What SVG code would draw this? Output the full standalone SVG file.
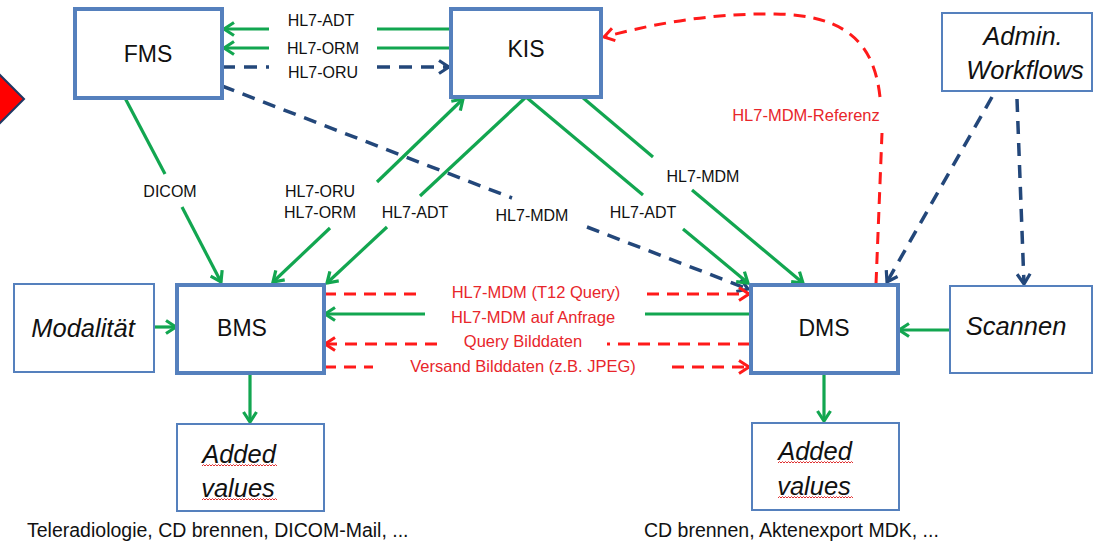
<svg xmlns="http://www.w3.org/2000/svg" width="1093" height="543" viewBox="0 0 1093 543">
<style>
.box{fill:#fff;stroke:#5580bd}
.thick{stroke-width:4}
.thin{stroke-width:2}
.big{font-family:"Liberation Sans",Arial,sans-serif;font-size:23px;fill:#111;text-anchor:middle}
.it{font-family:"Liberation Sans",Arial,sans-serif;font-size:25.5px;font-style:italic;fill:#111;text-anchor:middle}
.lbl{font-family:"Liberation Sans",Arial,sans-serif;font-size:16px;fill:#111;text-anchor:middle}
.rlbl{font-family:"Liberation Sans",Arial,sans-serif;font-size:16.5px;fill:#e8262b;text-anchor:middle}
.cap{font-family:"Liberation Sans",Arial,sans-serif;font-size:19.5px;fill:#111}
.g{fill:none;stroke:#12a650;stroke-width:3.2}
.b{fill:none;stroke:#23477a;stroke-width:3.5;stroke-dasharray:13 9}
.r{fill:none;stroke:#ff1a1a;stroke-width:3;stroke-dasharray:12 8}
.sq{fill:none;stroke:#e03030;stroke-width:1}
</style>
<defs>
<marker id="mg" viewBox="0 0 14 16" refX="12" refY="8" markerWidth="14" markerHeight="16" markerUnits="userSpaceOnUse" orient="auto-start-reverse">
<path d="M2,1.5 L12,8 L2,14.5" fill="none" stroke="#12a650" stroke-width="3.2" stroke-dasharray="none"/>
</marker>
<marker id="mb" viewBox="0 0 14 16" refX="12" refY="8" markerWidth="14" markerHeight="16" markerUnits="userSpaceOnUse" orient="auto">
<path d="M2,1.5 L12,8 L2,14.5" fill="none" stroke="#23477a" stroke-width="3.2" stroke-dasharray="none"/>
</marker>
<marker id="mr" viewBox="0 0 14 16" refX="12" refY="8" markerWidth="14" markerHeight="16" markerUnits="userSpaceOnUse" orient="auto">
<path d="M2,1.5 L12,8 L2,14.5" fill="none" stroke="#ff1a1a" stroke-width="3" stroke-dasharray="none"/>
</marker>
<path id="squig" class="sq" d="M0,0 l1.5,-1.5 l1.5,1.5 l1.5,-1.5 l1.5,1.5 l1.5,-1.5 l1.5,1.5 l1.5,-1.5 l1.5,1.5 l1.5,-1.5 l1.5,1.5 l1.5,-1.5 l1.5,1.5 l1.5,-1.5 l1.5,1.5 l1.5,-1.5 l1.5,1.5 l1.5,-1.5 l1.5,1.5 l1.5,-1.5 l1.5,1.5 l1.5,-1.5 l1.5,1.5 l1.5,-1.5 l1.5,1.5 l1.5,-1.5 l1.5,1.5 l1.5,-1.5 l1.5,1.5 l1.5,-1.5 l1.5,1.5 l1.5,-1.5 l1.5,1.5 l1.5,-1.5 l1.5,1.5 l1.5,-1.5 l1.5,1.5 l1.5,-1.5 l1.5,1.5 l1.5,-1.5 l1.5,1.5 l1.5,-1.5 l1.5,1.5 l1.5,-1.5 l1.5,1.5 l1.5,-1.5 l1.5,1.5 l1.5,-1.5 l1.5,1.5 l1.5,-1.5 l1.5,1.5"/>
</defs>
<rect width="1093" height="543" fill="#fff"/>

<polygon points="24,99 -26,49 -76,99 -26,149" fill="#ff0000" stroke="#1f3864" stroke-width="2"/>

<g id="connectors">
  <!-- KIS -> FMS ADT / ORM, FMS -> KIS ORU -->
  <path class="g" d="M450,29 L377,29"/>
  <path class="g" d="M269,29 L224,29" marker-end="url(#mg)"/>
  <path class="g" d="M450,48 L377,48"/>
  <path class="g" d="M269,48 L224,48" marker-end="url(#mg)"/>
  <path class="b" d="M222,67 L269,67"/>
  <path class="b" d="M377,67 L449,67" marker-end="url(#mb)"/>
  <!-- FMS -> DMS dashed -->
  <path class="b" d="M222,86 L512,198"/>
  <path class="b" d="M587,227 L748,289" marker-end="url(#mb)"/>
  <!-- FMS -> BMS DICOM -->
  <path class="g" d="M125,98 L165,174"/>
  <path class="g" d="M182,207 L221,282" marker-end="url(#mg)"/>
  <!-- BMS <-> KIS ORU/ORM -->
  <path class="g" d="M463,99 L377,182" marker-start="url(#mg)"/>
  <path class="g" d="M330,228 L273,282" marker-end="url(#mg)"/>
  <!-- KIS -> BMS ADT -->
  <path class="g" d="M526,97 L420,196"/>
  <path class="g" d="M387,227 L327,283" marker-end="url(#mg)"/>
  <!-- KIS -> DMS ADT -->
  <path class="g" d="M526,97 L643,195"/>
  <path class="g" d="M683,229 L748,283" marker-end="url(#mg)"/>
  <!-- KIS -> DMS MDM -->
  <path class="g" d="M582,97 L653,157"/>
  <path class="g" d="M692,190 L803,283" marker-end="url(#mg)"/>
  <!-- DMS -> KIS MDM-Referenz -->
  <path class="r" d="M876,284 L882,133"/>
  <path class="r" d="M880,97 C874,42 845,15 775,14 C705,13 645,26 604,37" marker-end="url(#mr)"/>
  <!-- Admin -> DMS, Admin -> Scannen -->
  <path class="b" d="M992,97 L887,282" marker-end="url(#mb)"/>
  <path class="b" d="M1017,99 L1024,284" marker-end="url(#mb)"/>
  <!-- Scannen -> DMS -->
  <path class="g" d="M950,330 L899,330" marker-end="url(#mg)"/>
  <!-- Modalitaet -> BMS -->
  <path class="g" d="M154,327 L176,327" marker-end="url(#mg)"/>
  <!-- BMS / DMS -> Added values -->
  <path class="g" d="M250,374 L250,422" marker-end="url(#mg)"/>
  <path class="g" d="M824,374 L824,421" marker-end="url(#mg)"/>
  <!-- BMS <-> DMS rows -->
  <path class="r" d="M324,294 L418,294"/>
  <path class="r" d="M647,294 L749,294" marker-end="url(#mr)"/>
  <path class="g" d="M750,314 L645,314"/>
  <path class="g" d="M425,314 L325,314" marker-end="url(#mg)"/>
  <path class="r" d="M750,344 L607,344"/>
  <path class="r" d="M437,344 L325,344" marker-end="url(#mr)"/>
  <path class="r" d="M324,367 L373,367"/>
  <path class="r" d="M672,367 L749,367" marker-end="url(#mr)"/>

  <text class="lbl" x="321" y="26">HL7-ADT</text>
  <text class="lbl" x="323" y="54">HL7-ORM</text>
  <text class="lbl" x="323" y="78">HL7-ORU</text>
  <text class="lbl" x="170" y="197">DICOM</text>
  <text class="lbl" x="320" y="197">HL7-ORU</text>
  <text class="lbl" x="320" y="218">HL7-ORM</text>
  <text class="lbl" x="415" y="218">HL7-ADT</text>
  <text class="lbl" x="532" y="221">HL7-MDM</text>
  <text class="lbl" x="643" y="218">HL7-ADT</text>
  <text class="lbl" x="703" y="182">HL7-MDM</text>
  <text class="rlbl" x="806" y="121">HL7-MDM-Referenz</text>
  <text class="rlbl" x="536" y="298">HL7-MDM (T12 Query)</text>
  <text class="rlbl" x="533" y="323">HL7-MDM auf Anfrage</text>
  <text class="rlbl" x="523" y="347">Query Bilddaten</text>
  <text class="rlbl" x="523" y="372">Versand Bilddaten (z.B. JPEG)</text>
</g>

<g id="fms"><rect class="box thick" x="75" y="9" width="147" height="89"/><text class="big" x="148" y="62">FMS</text></g>
<g id="kis"><rect class="box thick" x="451" y="9" width="150" height="88"/><text class="big" x="526" y="57">KIS</text></g>
<g id="admin"><rect class="box thin" x="942" y="13" width="150" height="78"/><text class="it" x="1023" y="45">Admin.</text><text class="it" x="1025" y="79">Workflows</text></g>
<g id="modalitaet"><rect class="box thin" x="14" y="284" width="140" height="88"/><text class="it" x="83" y="337">Modalität</text></g>
<g id="bms"><rect class="box thick" x="177" y="285" width="147" height="88"/><text class="big" x="242" y="336">BMS</text></g>
<g id="dms"><rect class="box thick" x="751" y="285" width="147" height="88"/><text class="big" x="824" y="336">DMS</text></g>
<g id="scannen"><rect class="box thin" x="950" y="286" width="142" height="87"/><text class="it" x="1016" y="335">Scannen</text></g>
<g id="added-bms"><rect class="box thin" x="177" y="424" width="147" height="87"/><text class="it" x="239" y="463">Added</text><text class="it" x="238" y="497">values</text>
<use href="#squig" x="202" y="466"/><use href="#squig" x="202" y="500"/></g>
<g id="added-dms"><rect class="box thin" x="752" y="423" width="147" height="87"/><text class="it" x="815" y="460">Added</text><text class="it" x="814" y="495">values</text>
<use href="#squig" x="778" y="463"/><use href="#squig" x="778" y="498"/></g>

<text class="cap" x="27" y="537">Teleradiologie, CD brennen, DICOM-Mail, ...</text>
<text class="cap" x="644" y="537">CD brennen, Aktenexport MDK, ...</text>
</svg>
